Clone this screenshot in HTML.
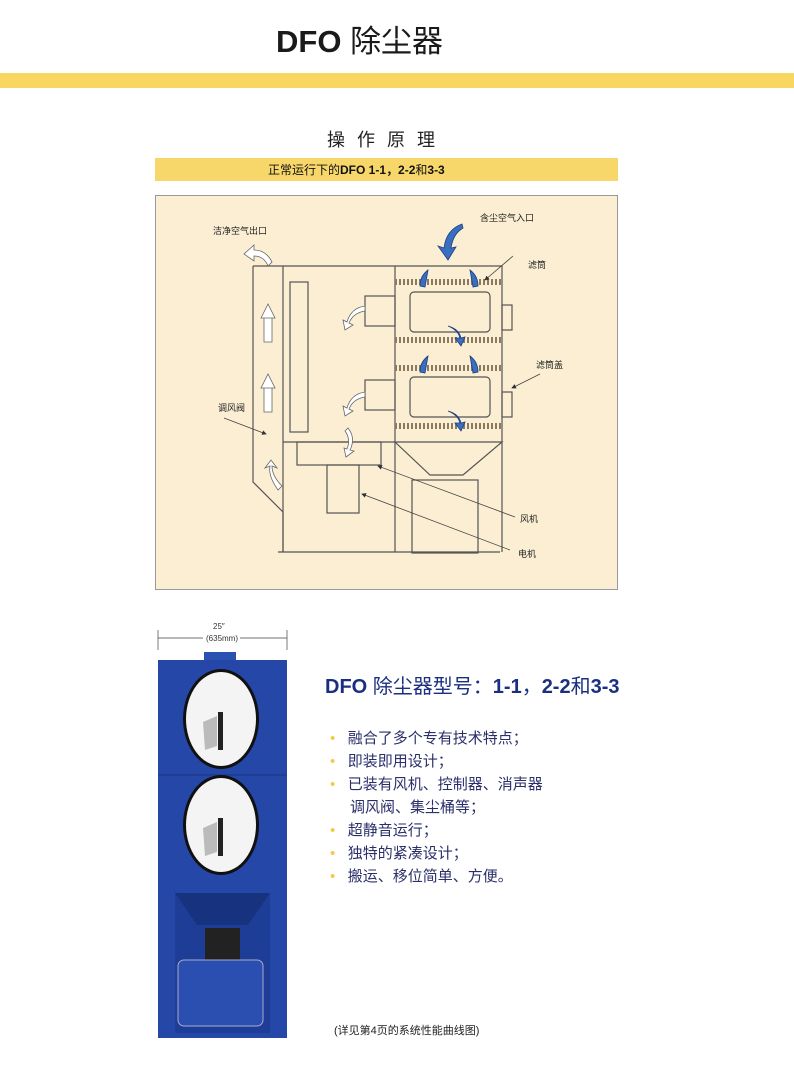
<!DOCTYPE html>
<html><head><meta charset="utf-8"><style>
body{margin:0;width:794px;height:1078px;background:#fff;position:relative;overflow:hidden;font-family:"Liberation Sans","Noto Sans CJK SC",sans-serif}
.a{position:absolute;white-space:nowrap}
</style></head><body>
<div class="a" style="left:276px;top:22px;font-size:31px;font-weight:bold;color:#1a1a1a;line-height:40px">DFO <span style="font-weight:normal">除尘器</span></div>
<div class="a" style="left:0;top:73px;width:794px;height:15px;background:#f9d65f"></div>
<div class="a" style="left:327px;top:126px;font-size:18px;letter-spacing:12px;color:#222">操作原理</div>
<div class="a" style="left:155px;top:158px;width:463px;height:23px;background:#f8d76a"></div>
<div class="a" style="left:268px;top:162px;font-size:12px;color:#111;line-height:16px">正常运行下的<b>DFO 1-1，2-2</b>和<b>3-3</b></div>
<div class="a" style="left:155px;top:195px;width:463px;height:395px;background:#fbeed3;border:1px solid #999;box-sizing:border-box"></div>
<svg class="a" style="left:0;top:0" width="794" height="1078">
<defs><marker id="ar" markerWidth="6" markerHeight="6" refX="5" refY="3" orient="auto"><path d="M0,0L6,3L0,6z" fill="#333"/></marker></defs>
<g fill="none" stroke="#555" stroke-width="1.2">
<path d="M253,266V482L283,512V552"/>
<path d="M253,266H502V552"/>
<path d="M283,266V552M395,266V552M283,442H395"/>
<path d="M278,552H500"/>
<rect x="290" y="282" width="18" height="150"/>
<rect x="297" y="442" width="84" height="23"/>
<rect x="327" y="465" width="32" height="48"/>
<path d="M395,442H502L463,475H430Z"/>
<rect x="412" y="480" width="66" height="73"/>
<path d="M395,282H502M395,340H502M395,368H502M395,426H502" stroke-width="6" stroke="#8a7a60" stroke-dasharray="2 2"/>
<rect x="410" y="292" width="80" height="40" rx="4"/>
<rect x="410" y="377" width="80" height="40" rx="4"/>
<rect x="365" y="296" width="30" height="30"/><rect x="365" y="380" width="30" height="30"/>
<rect x="502" y="305" width="10" height="25"/><rect x="502" y="392" width="10" height="25"/>
</g>
<g stroke="#444" stroke-width="0.8">
<line x1="513" y1="256" x2="485" y2="280" marker-end="url(#ar)"/>
<line x1="540" y1="374" x2="512" y2="388" marker-end="url(#ar)"/>
<line x1="515" y1="517" x2="378" y2="466" marker-end="url(#ar)"/>
<line x1="510" y1="550" x2="362" y2="494" marker-end="url(#ar)"/>
<line x1="224" y1="418" x2="266" y2="434" marker-end="url(#ar)"/>
</g>
<g fill="#fff" stroke="#666" stroke-width="0.8">
<path d="M264,318h8v24h-8zM261,318l7,-14l7,14z"/><path d="M264,388h8v24h-8zM261,388l7,-14l7,14z"/>
<path d="M278,490q-10,-14,-8,-24l-5,2l6,-8l6,8l-5,-2q0,10,10,20z"/>
<path d="M272,262q-6,-12,-18,-12l0,-5l-10,9l10,7l0,-5q10,0,14,10z"/>
<path d="M365,306q-14,2,-18,16l-4,-2l2,10l8,-5l-4,-2q4,-10,16,-12z"/>
<path d="M365,392q-14,2,-18,16l-4,-2l2,10l8,-5l-4,-2q4,-10,16,-12z"/>
<path d="M348,428q8,10,2,22l4,1l-8,6l-2,-9l3,1q4,-10,-2,-18z"/>
</g>
<g fill="#3a6fc0" stroke="#1d3f80" stroke-width="0.8">
<path d="M462,224q-16,6,-18,24l-6,-2l10,14l8,-13l-5,1q2,-14,12,-20z"/>
<path d="M428,270q-8,6,-8,16l5,1z M470,270q8,6,8,16l-5,1z M428,356q-8,6,-8,16l5,1z M470,356q8,6,8,16l-5,1z"/>
<path d="M448,326q10,4,12,12l-5,0l6,8l4,-9l-4,1q-2,-9,-13,-12z M448,411q10,4,12,12l-5,0l6,8l4,-9l-4,1q-2,-9,-13,-12z"/>
</g>
<g font-size="9" fill="#222" font-family="Liberation Sans,Noto Sans CJK SC,sans-serif">
<text x="213" y="234">洁净空气出口</text><text x="480" y="221">含尘空气入口</text>
<text x="528" y="268">滤筒</text><text x="536" y="368">滤筒盖</text>
<text x="218" y="411">调风阀</text><text x="520" y="522">风机</text><text x="518" y="557">电机</text>
</g>
<g font-size="8" fill="#333" font-family="Liberation Sans,sans-serif"><text x="213" y="629">25″</text><text x="206" y="641">(635mm)</text></g>
<path d="M158,638H203M240,638H287M158,630V650M287,630V650" stroke="#444" stroke-width="0.7"/>
<rect x="204" y="652" width="32" height="10" fill="#2b52b0"/>
<rect x="158" y="660" width="129" height="378" fill="#2447a8"/>
<rect x="175" y="893" width="95" height="140" fill="#1e3d96"/>
<path d="M175,893H270L248,925H197Z" fill="#17327e"/>
<rect x="205" y="928" width="35" height="35" fill="#222"/>
<rect x="178" y="960" width="85" height="66" rx="6" fill="#2a4fb0" stroke="#aac" stroke-width="1"/>
<line x1="158" y1="775" x2="287" y2="775" stroke="#1a3480"/>
<ellipse cx="221" cy="719" rx="38" ry="50" fill="#111"/><ellipse cx="221" cy="719" rx="35" ry="47" fill="#f4f4f4"/>
<ellipse cx="221" cy="825" rx="38" ry="50" fill="#111"/><ellipse cx="221" cy="825" rx="35" ry="47" fill="#f4f4f4"/>
<path d="M203,722l14,-6v30l-12,4z" fill="#bbb"/><path d="M203,828l14,-6v30l-12,4z" fill="#bbb"/>
<rect x="218" y="712" width="5" height="38" fill="#222"/><rect x="218" y="818" width="5" height="38" fill="#222"/>
</svg>
<div class="a" style="left:325px;top:674px;font-size:20px;font-weight:bold;color:#1a2f80;line-height:26px">DFO <span style="font-weight:normal">除尘器型号：</span>1-1<span style="font-weight:normal">，</span>2-2<span style="font-weight:normal">和</span>3-3</div>
<div class="a" style="left:330px;top:727px;font-size:15px;color:#2a2f6a;line-height:23px">
<div><span style="color:#f2c94c">•</span>&nbsp;&nbsp;&nbsp;融合了多个专有技术特点；</div>
<div><span style="color:#f2c94c">•</span>&nbsp;&nbsp;&nbsp;即装即用设计；</div>
<div><span style="color:#f2c94c">•</span>&nbsp;&nbsp;&nbsp;已装有风机、控制器、消声器</div>
<div style="padding-left:20px">调风阀、集尘桶等；</div>
<div><span style="color:#f2c94c">•</span>&nbsp;&nbsp;&nbsp;超静音运行；</div>
<div><span style="color:#f2c94c">•</span>&nbsp;&nbsp;&nbsp;独特的紧凑设计；</div>
<div><span style="color:#f2c94c">•</span>&nbsp;&nbsp;&nbsp;搬运、移位简单、方便。</div>
</div>
<div class="a" style="left:334px;top:1022px;font-size:11px;color:#222">(详见第4页的系统性能曲线图)</div>
</body></html>
